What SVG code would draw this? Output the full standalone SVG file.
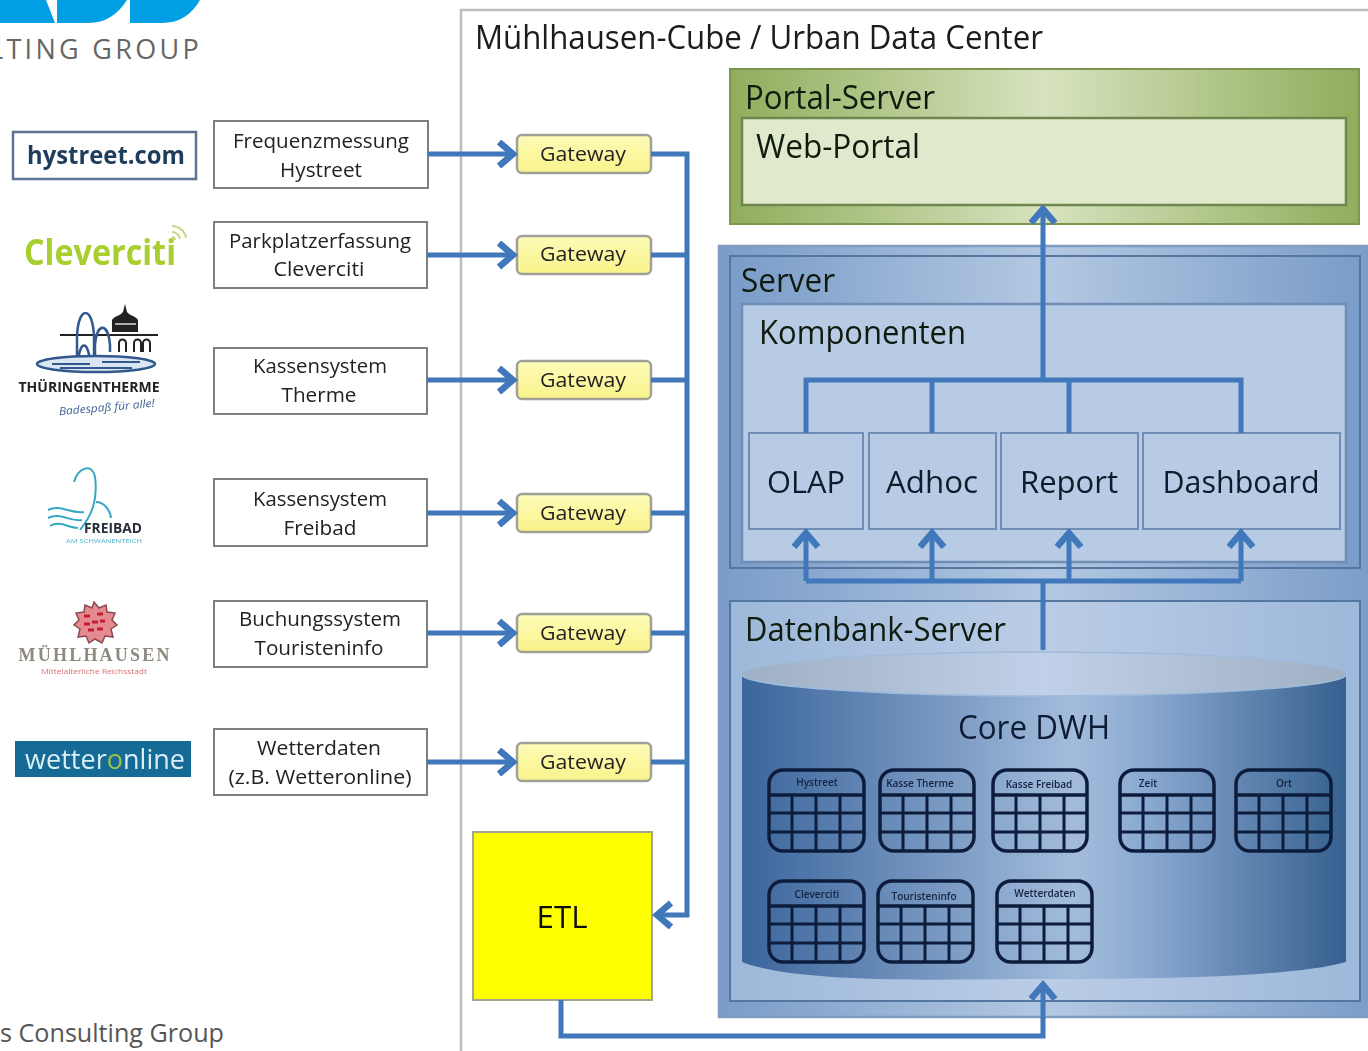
<svg xmlns="http://www.w3.org/2000/svg" width="1368" height="1051" viewBox="0 0 1368 1051">
<style>
text{font-family:"Open Sans","Noto Sans","Liberation Sans",sans-serif;fill:#222}
.src rect{fill:#fff;stroke:#7f7f7f;stroke-width:2}
.src text{font-size:20px;text-anchor:middle;fill:#222}
.gw rect{fill:url(#gy);stroke:#a0a098;stroke-width:2.5}
.gw text{font-size:20px;text-anchor:middle;fill:#222}
.comp rect{fill:#b7cce4;stroke:#6f8db5;stroke-width:2}
.comp text{font-size:31px;text-anchor:middle;fill:#101c2c}
.lbl{font-size:32px;fill:#101a10}
.con{fill:none;stroke:#3f78bb;stroke-width:5}
.tb rect{fill:none;stroke:#0d1f3c;stroke-width:3.5}
.tb path{fill:none;stroke:#0d1f3c;stroke-width:3}
.tb .h{stroke-width:3.5}
.tb text{font-size:10px;fill:#13233f;text-anchor:middle;font-weight:600}
</style>
<defs>
<filter id="soft" x="0" y="0" width="1368" height="1051" filterUnits="userSpaceOnUse"><feGaussianBlur stdDeviation="0.55"/></filter>
<linearGradient id="gy" x1="0" y1="0" x2="0" y2="1"><stop offset="0" stop-color="#fdfbb8"/><stop offset="1" stop-color="#f9f38a"/></linearGradient>
<linearGradient id="gg"><stop offset="0" stop-color="#90ad5c"/><stop offset=".5" stop-color="#d7e3bf"/><stop offset="1" stop-color="#90ad5c"/></linearGradient>
<linearGradient id="gb"><stop offset="0" stop-color="#7a9cc8"/><stop offset=".5" stop-color="#b3c8e2"/><stop offset="1" stop-color="#7a9cc8"/></linearGradient>
<linearGradient id="gd"><stop offset="0" stop-color="#9db8da"/><stop offset=".5" stop-color="#bacde6"/><stop offset="1" stop-color="#9db8da"/></linearGradient>
<linearGradient id="gc"><stop offset="0" stop-color="#3b659c"/><stop offset=".55" stop-color="#a3bcdc"/><stop offset=".68" stop-color="#88a7cf"/><stop offset="1" stop-color="#36608f"/></linearGradient>
<linearGradient id="gt"><stop offset="0" stop-color="#9fb0c4"/><stop offset=".5" stop-color="#bfd0e8"/><stop offset="1" stop-color="#9fb0c4"/></linearGradient>
<marker id="a" markerUnits="userSpaceOnUse" markerWidth="30" markerHeight="30" refX="23" refY="14" orient="auto"><path d="M9 2 L23 14 L9 26" fill="none" stroke="#3f78bb" stroke-width="6.5"/></marker>
</defs>
<rect width="1368" height="1051" fill="#fff"/>

<g id="brand">
<path d="M0 0H46L55 23H0Z M57 0H127C118 14 106 23 88 23H57Z M130 0H200C192 14 180 23 162 23H130Z" fill="#009fe3"/>
<text x="-11" y="59" font-size="27" letter-spacing="3.3" style="fill:#666">LTING GROUP</text>
<text x="0" y="1042" font-size="25" style="fill:#555" textLength="224" lengthAdjust="spacingAndGlyphs">s Consulting Group</text>
</g>

<g id="picture" filter="url(#soft)">
<g id="logos">
<g id="logo-hystreet"><rect x="13" y="132" width="183" height="47" fill="#fff" stroke="#5d7391" stroke-width="2.5"/><text x="106" y="164" font-size="25" font-weight="700" text-anchor="middle" style="fill:#1f3d5c" textLength="158" lengthAdjust="spacingAndGlyphs">hystreet.com</text></g>
<g id="logo-cleverciti"><text x="24" y="265" font-size="36" font-weight="700" style="fill:#a9cf2f" textLength="152" lengthAdjust="spacingAndGlyphs">Cleverciti</text><path d="M172 226a14 14 0 0 1 14 12M172 232a8 8 0 0 1 8 7M172 237a3 3 0 0 1 3 3" fill="none" stroke="#c4d98a" stroke-width="2"/></g>
<g id="logo-therme">
<path d="M60 335H158" stroke="#222" stroke-width="2"/>
<path d="M77 362V337C78 305 93 305 94 337V362M95 362V345C97 322 108 322 110 345V352M78 362C80 340 88 340 90 362" fill="none" stroke="#33598f" stroke-width="2.5"/>
<path d="M112 332V320C114 316 120 316 123 312L125 304L127 312C130 316 136 316 138 320V332Z" fill="#222"/>
<path d="M115 324H136" stroke="#ddd" stroke-width="1.5"/>
<path d="M119 352V343a3 3 0 0 1 7 0v9M134 352V343a3 3 0 0 1 7 0v9M143 352V343a3 3 0 0 1 7 0v9" fill="none" stroke="#222" stroke-width="2"/>
<ellipse cx="96" cy="364" rx="59" ry="8" fill="#dbe6f3" stroke="#33598f" stroke-width="2.5"/>
<path d="M52 364H90M102 362H140M60 368H132" stroke="#33598f" stroke-width="2"/>
<text x="89" y="392" font-size="15" font-weight="700" text-anchor="middle" style="fill:#222" textLength="141" lengthAdjust="spacingAndGlyphs">THÜRINGENTHERME</text>
<text x="107" y="411" font-size="11" font-style="italic" text-anchor="middle" style="fill:#3f5f92" textLength="96" lengthAdjust="spacingAndGlyphs" transform="rotate(-5 107 411)">Badespaß für alle!</text>
</g>
<g id="logo-freibad">
<path d="M74 482C78 468 92 462 95 477C98 500 92 515 80 530M96 502C104 502 110 510 111 518M48 510C60 504 70 514 84 512M48 518C60 512 70 522 82 520M50 526C60 520 68 528 78 528" fill="none" stroke="#36a9c4" stroke-width="2"/>
<text x="113" y="533" font-size="15" font-weight="700" text-anchor="middle" style="fill:#2a2f3a" textLength="58" lengthAdjust="spacingAndGlyphs">FREIBAD</text>
<text x="104" y="543" font-size="6" text-anchor="middle" style="fill:#48b2cf" textLength="76" lengthAdjust="spacingAndGlyphs">AM SCHWANENTEICH</text>
</g>
<g id="logo-muehlhausen">
<path d="M94 602l5 6 7-3 1 7 8 1-3 7 5 5-6 4 2 8-8-1-3 7-7-4-6 4-3-7-8 1 2-8-6-4 5-5-3-7 8-1 1-7 7 3Z" fill="#e58a90" stroke="#8a4a50" stroke-width="1.5"/>
<path d="M84 616h6M97 614h6M84 624h6M92 622h6M100 621h5M88 630h6M97 629h6" stroke="#c01f30" stroke-width="3"/>
<text x="94" y="661" font-size="18" text-anchor="middle" style="font-family:'Liberation Serif',serif;font-weight:700;fill:#8f8a80" textLength="151" lengthAdjust="spacing">MÜHLHAUSEN</text>
<text x="94" y="674" font-size="7" text-anchor="middle" style="fill:#d8707a" textLength="106" lengthAdjust="spacingAndGlyphs">Mittelalterliche Reichsstadt</text>
</g>
<g id="logo-wetteronline"><rect x="15" y="741" width="176" height="36" fill="#156b96"/><text x="25" y="769" font-size="27" style="fill:#d9eef5" textLength="160" lengthAdjust="spacing">wetter<tspan style="fill:#9cc04a">o</tspan>nline</text></g>
</g>

<rect id="dc-frame" x="461" y="10" width="920" height="1060" fill="#fff" stroke="#bdbdbd" stroke-width="2.5"/>
<text x="475" y="49" font-size="32" textLength="568" lengthAdjust="spacingAndGlyphs" style="fill:#1c1c1c">Mühlhausen-Cube / Urban Data Center</text>

<g id="portal-server">
<rect x="730" y="69" width="629" height="155" fill="url(#gg)" stroke="#7b9550" stroke-width="2"/>
<text class="lbl" x="745" y="109" textLength="190" lengthAdjust="spacingAndGlyphs">Portal-Server</text>
<g id="web-portal"><rect x="742" y="118" width="604" height="87" fill="#e0e9cc" stroke="#6f8650" stroke-width="2.5"/>
<text class="lbl" x="756" y="158" textLength="164" lengthAdjust="spacingAndGlyphs">Web-Portal</text></g>
</g>

<g id="server-outer">
<rect x="719" y="246" width="660" height="771" fill="url(#gb)" stroke="#7f9cc2" stroke-width="2.5"/>
<rect x="730" y="256" width="630" height="312" fill="url(#gb)" stroke="#55779f" stroke-width="2"/>
<text class="lbl" x="741" y="292" textLength="94" lengthAdjust="spacingAndGlyphs">Server</text>
</g>
<g id="komponenten"><rect x="742" y="304" width="604" height="258" fill="#b7cce4" stroke="#6f8db5" stroke-width="2.5"/>
<text class="lbl" x="759" y="344" textLength="207" lengthAdjust="spacingAndGlyphs">Komponenten</text></g>

<g id="sources">
<g class="src" id="src-hystreet"><rect x="214" y="121" width="214" height="67"/><text x="321" y="148" textLength="176" lengthAdjust="spacingAndGlyphs">Frequenzmessung</text><text x="321" y="177" textLength="82" lengthAdjust="spacingAndGlyphs">Hystreet</text></g>
<g class="src" id="src-cleverciti"><rect x="214" y="222" width="213" height="66"/><text x="320" y="248" textLength="182" lengthAdjust="spacingAndGlyphs">Parkplatzerfassung</text><text x="319" y="276" textLength="91" lengthAdjust="spacingAndGlyphs">Cleverciti</text></g>
<g class="src" id="src-therme"><rect x="214" y="348" width="213" height="66"/><text x="320" y="373" textLength="134" lengthAdjust="spacingAndGlyphs">Kassensystem</text><text x="319" y="402" textLength="75" lengthAdjust="spacingAndGlyphs">Therme</text></g>
<g class="src" id="src-freibad"><rect x="214" y="479" width="213" height="67"/><text x="320" y="506" textLength="134" lengthAdjust="spacingAndGlyphs">Kassensystem</text><text x="320" y="535" textLength="73" lengthAdjust="spacingAndGlyphs">Freibad</text></g>
<g class="src" id="src-touristinfo"><rect x="214" y="601" width="213" height="66"/><text x="320" y="626" textLength="162" lengthAdjust="spacingAndGlyphs">Buchungssystem</text><text x="319" y="655" textLength="129" lengthAdjust="spacingAndGlyphs">Touristeninfo</text></g>
<g class="src" id="src-wetter"><rect x="214" y="729" width="213" height="66"/><text x="319" y="755" textLength="124" lengthAdjust="spacingAndGlyphs">Wetterdaten</text><text x="320" y="784" textLength="183" lengthAdjust="spacingAndGlyphs">(z.B. Wetteronline)</text></g>
</g>

<g id="gateways">
<g class="gw" id="gw1"><rect x="517" y="135" width="134" height="38" rx="5"/><text x="583" y="161" textLength="86" lengthAdjust="spacingAndGlyphs">Gateway</text></g>
<g class="gw" id="gw2"><rect x="517" y="236" width="134" height="38" rx="5"/><text x="583" y="261" textLength="86" lengthAdjust="spacingAndGlyphs">Gateway</text></g>
<g class="gw" id="gw3"><rect x="517" y="361" width="134" height="38" rx="5"/><text x="583" y="387" textLength="86" lengthAdjust="spacingAndGlyphs">Gateway</text></g>
<g class="gw" id="gw4"><rect x="517" y="494" width="134" height="38" rx="5"/><text x="583" y="520" textLength="86" lengthAdjust="spacingAndGlyphs">Gateway</text></g>
<g class="gw" id="gw5"><rect x="517" y="614" width="134" height="38" rx="5"/><text x="583" y="640" textLength="86" lengthAdjust="spacingAndGlyphs">Gateway</text></g>
<g class="gw" id="gw6"><rect x="517" y="743" width="134" height="38" rx="5"/><text x="583" y="769" textLength="86" lengthAdjust="spacingAndGlyphs">Gateway</text></g>
</g>
<g id="etl"><rect x="473" y="832" width="179" height="168" fill="#ffff00" stroke="#a6a690" stroke-width="2"/><text x="562" y="928" font-size="31" text-anchor="middle" textLength="51" lengthAdjust="spacingAndGlyphs" style="fill:#111">ETL</text></g>

<g id="components">
<g class="comp" id="olap"><rect x="749" y="433" width="114" height="96"/><text x="806" y="493" textLength="78" lengthAdjust="spacingAndGlyphs">OLAP</text></g>
<g class="comp" id="adhoc"><rect x="869" y="433" width="127" height="96"/><text x="932" y="493" textLength="92" lengthAdjust="spacingAndGlyphs">Adhoc</text></g>
<g class="comp" id="report"><rect x="1001" y="433" width="137" height="96"/><text x="1069" y="493" textLength="98" lengthAdjust="spacingAndGlyphs">Report</text></g>
<g class="comp" id="dashboard"><rect x="1143" y="433" width="197" height="96"/><text x="1241" y="493" textLength="157" lengthAdjust="spacingAndGlyphs">Dashboard</text></g>
</g>

<g id="db-server">
<rect x="730" y="601" width="630" height="400" fill="url(#gd)" stroke="#55779f" stroke-width="2"/>
<text class="lbl" x="745" y="641" textLength="261" lengthAdjust="spacingAndGlyphs">Datenbank-Server</text>
<g id="core-dwh">
<path d="M742 674V962C800 985 960 979 1040 979C1140 979 1290 978 1346 962V674Z" fill="url(#gc)"/>
<ellipse cx="1044" cy="674" rx="303" ry="22" fill="url(#gt)" stroke="#9fbbdc" stroke-width="1.5"/>
<text x="1034" y="739" font-size="32" text-anchor="middle" textLength="152" lengthAdjust="spacingAndGlyphs" style="fill:#0f1d36">Core DWH</text>
</g>
<g id="tables">
<g class="tb" id="t1" transform="translate(769 770)"><rect width="95" height="81" rx="14"/><path class="h" d="M0 25H95"/><path d="M0 43H95M0 62H95M23 25V81M47 25V81M71 25V81"/><text x="48" y="16">Hystreet</text></g>
<g class="tb" id="t2" transform="translate(880 770)"><rect width="94" height="81" rx="14"/><path class="h" d="M0 25H94"/><path d="M0 43H94M0 62H94M23 25V81M47 25V81M71 25V81"/><text x="40" y="17">Kasse Therme</text></g>
<g class="tb" id="t3" transform="translate(993 770)"><rect width="94" height="81" rx="14"/><path class="h" d="M0 25H94"/><path d="M0 43H94M0 62H94M23 25V81M47 25V81M71 25V81"/><text x="46" y="18">Kasse Freibad</text></g>
<g class="tb" id="t4" transform="translate(1120 770)"><rect width="94" height="81" rx="14"/><path class="h" d="M0 25H94"/><path d="M0 43H94M0 62H94M23 25V81M47 25V81M71 25V81"/><text x="28" y="17">Zeit</text></g>
<g class="tb" id="t5" transform="translate(1236 770)"><rect width="95" height="81" rx="14"/><path class="h" d="M0 25H95"/><path d="M0 43H95M0 62H95M23 25V81M47 25V81M71 25V81"/><text x="48" y="17">Ort</text></g>
<g class="tb" id="t6" transform="translate(769 881)"><rect width="95" height="81" rx="14"/><path class="h" d="M0 25H95"/><path d="M0 43H95M0 62H95M23 25V81M47 25V81M71 25V81"/><text x="48" y="17">Cleverciti</text></g>
<g class="tb" id="t7" transform="translate(878 881)"><rect width="95" height="81" rx="14"/><path class="h" d="M0 25H95"/><path d="M0 43H95M0 62H95M23 25V81M47 25V81M71 25V81"/><text x="46" y="19">Touristeninfo</text></g>
<g class="tb" id="t8" transform="translate(997 881)"><rect width="95" height="81" rx="14"/><path class="h" d="M0 25H95"/><path d="M0 43H95M0 62H95M23 25V81M47 25V81M71 25V81"/><text x="48" y="16">Wetterdaten</text></g>
</g>
</g>

<g id="connectors" class="con">
<path d="M428 154H513" marker-end="url(#a)"/>
<path d="M427 255H513" marker-end="url(#a)"/>
<path d="M427 380H513" marker-end="url(#a)"/>
<path d="M427 513H513" marker-end="url(#a)"/>
<path d="M427 633H513" marker-end="url(#a)"/>
<path d="M427 762H513" marker-end="url(#a)"/>
<path d="M651 154H687V915H657" marker-end="url(#a)"/>
<path d="M651 255H687M651 380H687M651 513H687M651 633H687M651 762H687"/>
<path d="M561 1000V1036H1043V985" marker-end="url(#a)"/>
<path d="M1043 380V209" marker-end="url(#a)"/>
<path d="M806 433V380H1241V433M932 380V433M1069 380V433"/>
<path d="M1043 650V581"/>
<path d="M806 581V533" marker-end="url(#a)"/>
<path d="M932 581V533" marker-end="url(#a)"/>
<path d="M1069 581V533" marker-end="url(#a)"/>
<path d="M1241 581V533" marker-end="url(#a)"/>
<path d="M806 581H1241"/>
</g>
</g>
</svg>
